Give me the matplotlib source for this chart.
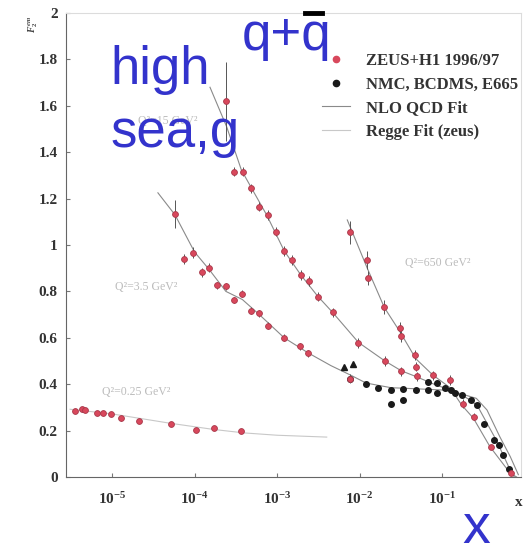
import matplotlib
matplotlib.use("Agg")
import matplotlib.pyplot as plt
from matplotlib.lines import Line2D
from matplotlib.legend_handler import HandlerLine2D

# F2 vs x at fixed Q^2 : ZEUS+H1 (red), fixed target (black), fits (grey lines)

# --- ZEUS+H1 1996/97 points ---
q025_x = [3.6e-6, 4.3e-6, 4.7e-6, 6.5e-6, 7.8e-6, 9.8e-6, 1.29e-5, 2.13e-5, 5.2e-5, 1.03e-4, 1.71e-4, 3.7e-4]
q025_f2 = [0.284, 0.292, 0.289, 0.277, 0.274, 0.272, 0.253, 0.242, 0.228, 0.203, 0.211, 0.198]
q025_err = [0.01, 0.01, 0.01, 0.008, 0.008, 0.008, 0.01, 0.01, 0.01, 0.01, 0.01, 0.01]

q35_x = [5.8e-5, 7.5e-5, 9.7e-5, 1.22e-4, 1.51e-4, 1.89e-4, 2.39e-4, 3.0e-4, 3.8e-4, 4.8e-4,
         6.1e-4, 7.7e-4, 1.22e-3, 1.88e-3, 2.38e-3, 7.7e-3]
q35_f2 = [1.134, 0.940, 0.967, 0.882, 0.902, 0.826, 0.823, 0.763, 0.789, 0.716,
          0.705, 0.651, 0.600, 0.563, 0.534, 0.424]
q35_err = [0.06, 0.02, 0.025, 0.02, 0.02, 0.015, 0.015, 0.015, 0.015, 0.015,
           0.015, 0.015, 0.015, 0.015, 0.015, 0.02]

q15_x = [2.41e-4, 3.03e-4, 3.84e-4, 4.8e-4, 6.1e-4, 7.7e-4, 9.6e-4, 1.22e-3, 1.53e-3, 1.95e-3,
         2.44e-3, 3.1e-3, 4.7e-3, 9.7e-3, 2.03e-2, 3.2e-2, 4.9e-2]
q15_f2 = [1.62, 1.316, 1.316, 1.244, 1.165, 1.129, 1.057, 0.974, 0.935, 0.871,
          0.845, 0.777, 0.710, 0.578, 0.500, 0.456, 0.434]
q15_err = [0.17, 0.02, 0.02, 0.02, 0.02, 0.02, 0.02, 0.02, 0.02, 0.02,
           0.02, 0.02, 0.02, 0.02, 0.02, 0.02, 0.02]

q650_x = [7.7e-3, 1.22e-2, 1.26e-2, 1.98e-2, 3.05e-2, 3.15e-2, 4.75e-2, 4.85e-2, 7.7e-2, 0.126,
          0.18, 0.244, 0.39, 0.68]
q650_f2 = [1.055, 0.935, 0.856, 0.731, 0.641, 0.608, 0.526, 0.476, 0.439, 0.418,
           0.316, 0.259, 0.129, 0.019]
q650_err = [0.05, 0.04, 0.03, 0.03, 0.025, 0.025, 0.02, 0.02, 0.02, 0.02,
            0.02, 0.015, 0.01, 0.01]

# --- NMC, BCDMS, E665 ---
nmc_x = [7.7e-3, 1.19e-2, 1.69e-2, 2.39e-2, 2.39e-2, 3.4e-2, 3.4e-2, 4.8e-2, 6.8e-2, 6.8e-2, 8.7e-2,
         8.7e-2, 0.108, 0.13, 0.145, 0.176, 0.223, 0.268, 0.323, 0.43, 0.49, 0.54, 0.65]
nmc_f2 = [0.424, 0.402, 0.384, 0.374, 0.316, 0.378, 0.333, 0.374, 0.376, 0.411, 0.404,
          0.362, 0.382, 0.376, 0.36, 0.352, 0.33, 0.309, 0.23, 0.158, 0.137, 0.094, 0.036]
e665_x = [6.5e-3, 8.4e-3]
e665_f2 = [0.474, 0.486]

# --- fits ---
fit35_x = [3.6e-5, 5.8e-5, 1.0e-4, 1.5e-4, 2.4e-4, 3.8e-4, 6.1e-4, 1.22e-3, 2.38e-3, 4.5e-3, 7.7e-3,
           1.2e-2, 2.4e-2, 5e-2, 0.1, 0.165, 0.26, 0.35, 0.50, 0.67, 0.84]
fit35_f2 = [1.225, 1.13, 0.97, 0.895, 0.80, 0.765, 0.70, 0.60, 0.535, 0.48, 0.44,
            0.405, 0.385, 0.38, 0.375, 0.36, 0.339, 0.289, 0.174, 0.088, 0.01]
fit15_x = [1.54e-4, 2.45e-4, 3.7e-4, 7.5e-4, 1.22e-3, 1.95e-3, 3.1e-3, 4.7e-3, 9.7e-3, 2.03e-2, 3.2e-2,
           4.9e-2, 8e-2, 0.125, 0.173, 0.223, 0.27, 0.34, 0.46, 0.55, 0.65, 0.75]
fit15_f2 = [1.68, 1.51, 1.323, 1.129, 0.975, 0.87, 0.78, 0.71, 0.58, 0.50, 0.458,
            0.432, 0.40, 0.375, 0.353, 0.33, 0.305, 0.24, 0.155, 0.095, 0.04, 0.0]
fit650_x = [7.1e-3, 1.24e-2, 2e-2, 3.1e-2, 4.8e-2, 7.7e-2, 0.125, 0.173, 0.24, 0.38, 0.67, 0.8]
fit650_f2 = [1.108, 0.90, 0.73, 0.625, 0.51, 0.44, 0.385, 0.31, 0.253, 0.131, 0.016, 0.0]
regge_x = [3.1e-6, 1e-5, 5e-5, 1.7e-4, 4e-4, 1e-3, 4.0e-3]
regge_f2 = [0.292, 0.272, 0.232, 0.205, 0.19, 0.18, 0.172]

# Q^2 labels (text, x, F2)
q_labels = [("Q²=0.25 GeV²", 1.95e-5, 0.366),
            ("Q²=3.5 GeV²", 2.6e-5, 0.819),
            ("Q²=15 GeV²", 4.8e-5, 1.534),
            ("Q²=650 GeV²", 0.0895, 0.922)]

xticks = [1e-5, 1e-4, 1e-3, 1e-2, 1e-1]
xtick_labels = ["$10^{-5}$", "$10^{-4}$", "$10^{-3}$", "$10^{-2}$", "$10^{-1}$"]
yticks = [0, 0.2, 0.4, 0.6, 0.8, 1, 1.2, 1.4, 1.6, 1.8, 2]
ytick_labels = ["0", "0.2", "0.4", "0.6", "0.8", "1", "1.2", "1.4", "1.6", "1.8", "2"]


class RightMarkerHandler(HandlerLine2D):
    # legend marker drawn at the right end of the handle
    def get_xdata(self, legend, xdescent, ydescent, width, height, fontsize):
        xdata, _ = super().get_xdata(legend, xdescent, ydescent, width, height, fontsize)
        return xdata, [-xdescent + width]


plt.rcParams["font.family"] = ["Liberation Serif", "DejaVu Serif"]
plt.rcParams["mathtext.fontset"] = "custom"
plt.rcParams["mathtext.rm"] = "Liberation Serif:bold"
plt.rcParams["mathtext.it"] = "Liberation Serif:italic:bold"
plt.rcParams["mathtext.bf"] = "Liberation Serif:bold"

fig = plt.figure(figsize=(5.28, 5.54), dpi=100)
ax = fig.add_axes([0.125, 0.139, 0.862, 0.8375])

red = "#d8485c"
fitc = "#8a8a8a"

ax.plot(regge_x, regge_f2, color="#c8c8c8", lw=0.8)
for fx, fy in [(fit35_x, fit35_f2), (fit15_x, fit15_f2), (fit650_x, fit650_f2)]:
    ax.plot(fx, fy, color=fitc, lw=0.8)

ax.plot(nmc_x, nmc_f2, "o", color="#1a1a1a", ms=4, zorder=3)
ax.plot(e665_x, e665_f2, "^", color="#1a1a1a", ms=4, zorder=3)

for dx, dy, de in [(q025_x, q025_f2, q025_err), (q35_x, q35_f2, q35_err),
                   (q15_x, q15_f2, q15_err), (q650_x, q650_f2, q650_err)]:
    ax.errorbar(dx, dy, yerr=de, fmt="o", ms=4.2, mfc=red, mec="#a8384a", mew=0.6,
                ecolor="#555555", elinewidth=0.7, capsize=0, zorder=4)

for txt, lx, ly in q_labels:
    ax.text(lx, ly, txt, color="#bcbcbc", fontsize=8.5, ha="center", va="center")

ax.set_xscale("log")
ax.set_xlim(2.77e-6, 0.908)
ax.set_ylim(0, 2)
ax.set_xticks(xticks)
ax.set_xticklabels(xtick_labels)
ax.xaxis.set_minor_locator(matplotlib.ticker.NullLocator())
ax.set_yticks(yticks)
ax.set_yticklabels(ytick_labels)
ax.tick_params(axis="both", direction="in", length=3, color="#777777", labelsize=11,
               labelcolor="#333333")
ax.tick_params(axis="x", pad=10)
ax.tick_params(axis="y", pad=6)
for lab in ax.get_yticklabels():
    lab.set_fontweight("bold")

for side in ["left", "bottom"]:
    ax.spines[side].set_color("#666666")
    ax.spines[side].set_linewidth(0.8)
for side in ["top", "right"]:
    ax.spines[side].set_color("#dcdcdc")
    ax.spines[side].set_linewidth(0.8)

ax.set_xlabel("x", fontsize=11, fontweight="bold", color="#333333")
ax.xaxis.set_label_coords(0.995, -0.04)
fig.text(33 / 528, 1 - 24 / 554, "$F_2^{em}$", rotation=90, fontsize=7, color="#444444",
         ha="center", va="center")

# legend
h_zeus = Line2D([], [], marker="o", ls="none", ms=4.5, mfc=red, mec=red)
h_nmc = Line2D([], [], marker="o", ls="none", ms=4.5, color="#1a1a1a")
h_nlo = Line2D([], [], color=fitc, lw=0.8)
h_regge = Line2D([], [], color="#c8c8c8", lw=0.8)
labels = ["ZEUS+H1 1996/97", "NMC, BCDMS, E665", "NLO QCD Fit", "Regge Fit (zeus)"]
right_marker = RightMarkerHandler()
leg = ax.legend([h_zeus, h_nmc, h_nlo, h_regge], labels, loc="upper left",
                bbox_to_anchor=(322 / 528, 1 - 53 / 554),
                bbox_transform=fig.transFigure, frameon=False, borderpad=0, borderaxespad=0,
                handlelength=1.65, handletextpad=1.0, labelspacing=0.46,
                handler_map={h_zeus: right_marker, h_nmc: right_marker},
                prop={"family": "Liberation Serif", "weight": "bold", "size": 12})
for t in leg.get_texts():
    t.set_color("#333333")

# blue slide annotations
blue = "#3333cc"
fig.text(110 / 528, 1 - 84 / 554, "high", color=blue, fontsize=38,
         family="Liberation Sans", ha="left", va="baseline")
fig.text(110 / 528, 1 - 147 / 554, "sea,g", color=blue, fontsize=38,
         family="Liberation Sans", ha="left", va="baseline")
fig.text(331 / 528, 1 - 50 / 554, "q+q", color=blue, fontsize=38,
         family="Liberation Sans", ha="right", va="baseline")
fig.add_artist(Line2D([305 / 528, 322 / 528], [1 - 12.5 / 554, 1 - 12.5 / 554],
                      color="black", lw=3.5))
fig.text(476 / 528, 1 - 543 / 554, "x", color=blue, fontsize=40,
         family="Liberation Sans", ha="center", va="baseline")

plt.savefig("out.png", dpi=100)
